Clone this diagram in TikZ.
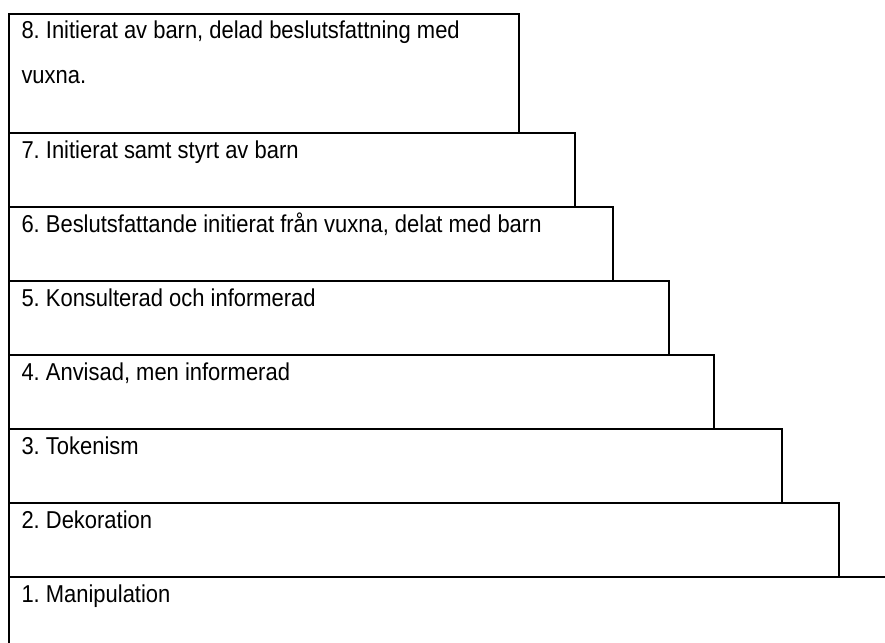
\documentclass[tikz,border=0pt]{standalone}
\usepackage{fontspec}
\setmainfont{Liberation Sans}[FakeStretch=0.9]
\usetikzlibrary{calc}
\frenchspacing
\begin{document}
\begin{tikzpicture}[x=1pt,y=-1pt,
  stepbox/.style={draw, line width=2pt, rectangle, inner sep=0pt, outer sep=0pt, anchor=north west},
  openbox/.style={rectangle, inner sep=0pt, outer sep=0pt, anchor=north west},
  edge/.style={line width=2pt},
  lbl/.style={inner sep=0pt, outer sep=0pt, anchor=base west, font=\fontsize{24.4}{44}\selectfont, text=black}]
\useasboundingbox (0,0) rectangle (885,642);
\node[stepbox, minimum width=510pt, minimum height=119pt] (b8) at (8.5,14) {};
\node[stepbox, minimum width=566.5pt, minimum height=74pt] (b7) at (8.5,133) {};
\node[stepbox, minimum width=604.5pt, minimum height=74pt] (b6) at (8.5,207) {};
\node[stepbox, minimum width=660.5pt, minimum height=74pt] (b5) at (8.5,281) {};
\node[stepbox, minimum width=705.5pt, minimum height=74pt] (b4) at (8.5,355) {};
\node[stepbox, minimum width=773.5pt, minimum height=74pt] (b3) at (8.5,429) {};
\node[stepbox, minimum width=830.5pt, minimum height=74pt] (b2) at (8.5,503) {};
\node[openbox, minimum width=876.5pt, minimum height=70pt] (b1) at (8.5,577) {};
\draw[edge] (b1.south west) -- (b1.north west) -- (b1.north east);
\node[lbl] (t8) at ($(b8.north west)+(13,25)$) {8. Initierat av barn, delad beslutsfattning med};
\node[lbl] (t8b) at ($(t8.base west)+(0,44)$) {vuxna.};
\node[lbl] (t7) at ($(b7.north west)+(13,25)$) {7. Initierat samt styrt av barn};
\node[lbl] (t6) at ($(b6.north west)+(13,25)$) {6. Beslutsfattande initierat från vuxna, delat med barn};
\node[lbl] (t5) at ($(b5.north west)+(13,25)$) {5. Konsulterad och informerad};
\node[lbl] (t4) at ($(b4.north west)+(13,25)$) {4. Anvisad, men informerad};
\node[lbl] (t3) at ($(b3.north west)+(13,25)$) {3. Tokenism};
\node[lbl] (t2) at ($(b2.north west)+(13,25)$) {2. Dekoration};
\node[lbl] (t1) at ($(b1.north west)+(13,25)$) {1. Manipulation};
\end{tikzpicture}
\end{document}
